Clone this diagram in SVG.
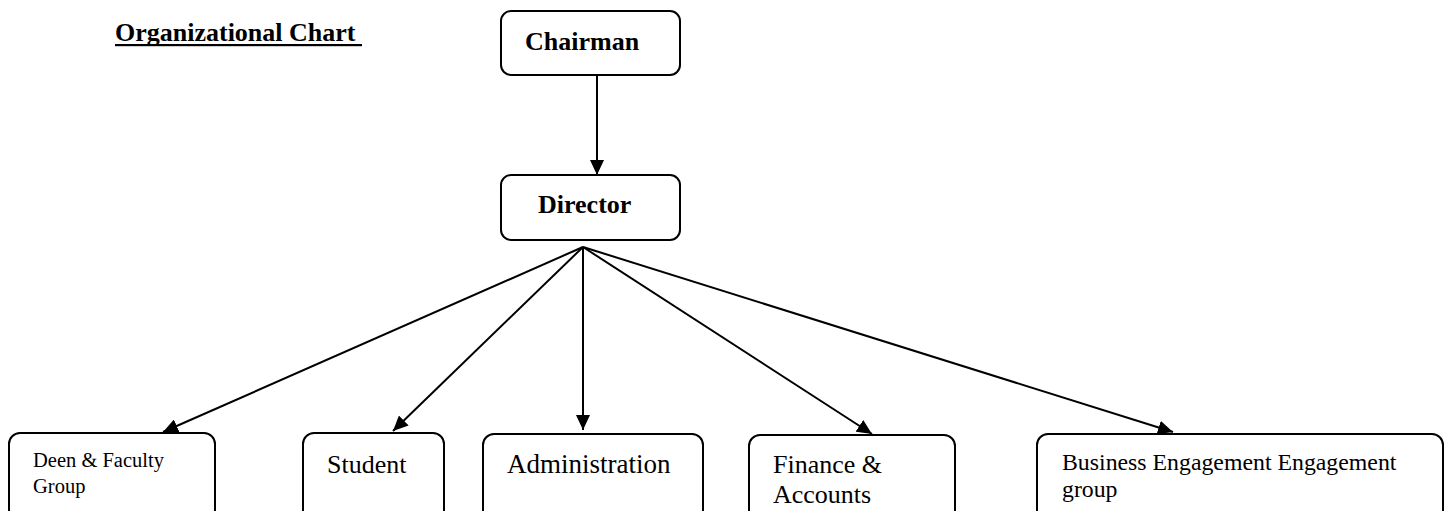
<svg xmlns="http://www.w3.org/2000/svg" width="1445" height="511" viewBox="0 0 1445 511">
<style>
.box{fill:#fff;stroke:#000;stroke-width:2}
.t{font-family:"Liberation Serif","Times New Roman",serif;fill:#000}
.b{font-weight:bold;font-size:26px}
.conn{stroke:#000;stroke-width:2;fill:none;marker-end:url(#ah)}
</style>
<defs>
<marker id="ah" markerUnits="userSpaceOnUse" markerWidth="16" markerHeight="14" refX="15" refY="7" orient="auto">
<path d="M0,0 L15,7 L0,14 Z" fill="#000"/>
</marker>
</defs>
<rect width="1445" height="511" fill="#fff"/>
<g id="title">
<text class="t b" x="115" y="41">Organizational Chart</text>
<rect x="115" y="44" width="247" height="2.2" fill="#000"/>
</g>
<g id="connectors">
<line class="conn" x1="597" y1="75" x2="597" y2="175"/>
<line class="conn" x1="583" y1="247" x2="163" y2="432"/>
<line class="conn" x1="583" y1="247" x2="393" y2="431"/>
<line class="conn" x1="583" y1="247" x2="583" y2="430"/>
<line class="conn" x1="583" y1="247" x2="872" y2="434"/>
<line class="conn" x1="583" y1="247" x2="1173" y2="432"/>
</g>
<g id="chairman">
<rect class="box" x="501" y="11" width="179" height="64" rx="10"/>
<text class="t b" x="525" y="50">Chairman</text>
</g>
<g id="director">
<rect class="box" x="501" y="175" width="179" height="65" rx="10"/>
<text class="t b" x="538" y="213">Director</text>
</g>
<g id="deen">
<rect class="box" x="9" y="433" width="206" height="100" rx="11"/>
<text class="t" font-size="20.5" x="33" y="467">Deen &amp; Faculty</text>
<text class="t" font-size="20.5" x="33" y="493">Group</text>
</g>
<g id="student">
<rect class="box" x="303" y="433" width="141" height="100" rx="11"/>
<text class="t" font-size="26" x="327" y="473">Student</text>
</g>
<g id="administration">
<rect class="box" x="483" y="434" width="220" height="100" rx="11"/>
<text class="t" font-size="27" x="507" y="473">Administration</text>
</g>
<g id="finance">
<rect class="box" x="749" y="435" width="206" height="100" rx="11"/>
<text class="t" font-size="26" x="773" y="473">Finance &amp;</text>
<text class="t" font-size="26" x="773" y="503">Accounts</text>
</g>
<g id="business">
<rect class="box" x="1037" y="434" width="406" height="100" rx="11"/>
<text class="t" font-size="23.8" x="1062" y="470">Business Engagement Engagement</text>
<text class="t" font-size="23.8" x="1062" y="497">group</text>
</g>
</svg>
